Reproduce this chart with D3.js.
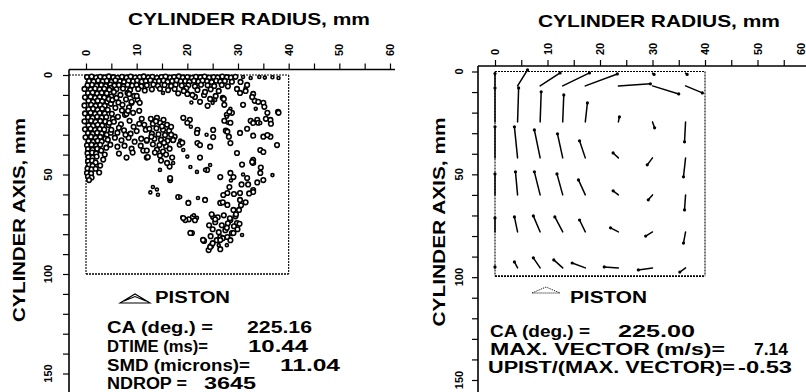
<!DOCTYPE html>
<html><head><meta charset="utf-8">
<script src="https://cdn.jsdelivr.net/npm/d3@7"></script>
<style>
body{margin:0;background:#fff}
svg{display:block;background:#fff}
text{font-family:"Liberation Sans",Arial,Helvetica,sans-serif;font-weight:bold;fill:#000}
</style>
</head><body>
<svg id="chart" width="806" height="392"></svg>
<script>
// ---------------- DATA ----------------
const radiusTicks = [0, 10, 20, 30, 40, 50, 60];
const axisTicks = [0, 50, 100, 150];
const xTitle = "CYLINDER RADIUS, mm";
const yTitle = "CYLINDER AXIS, mm";
const pistonLabel = "PISTON";

// droplet positions [radius mm, axial mm, small?]
const drops = [
// top band
[0.2,1.0],[1.1,0.8],[2.0,1.3],[2.8,0.9],[3.7,1.2],[4.5,0.7],[5.4,1.1],[6.2,1.4],[7.1,0.9],[8.0,1.2],[8.8,0.8],[9.7,1.3],[10.6,1.0],[11.4,0.7],[12.3,1.2],[13.1,0.9],[14.0,1.4],[14.9,1.0],[15.7,0.8],[16.6,1.3],[17.4,1.0],[18.3,0.7],[19.1,1.2],[20.0,1.0],[20.9,1.4],[21.7,0.9],[22.6,1.1],[23.4,0.8],[24.3,1.3],[25.2,1.0],[26.0,1.2],[26.9,0.8],[27.8,1.1],[28.6,1.3],[29.5,0.9],
[0.6,3.0],[1.5,3.3],[2.4,2.8],[3.3,3.2],[4.1,2.9],[5.0,3.4],[5.8,2.7],[6.7,3.1],[7.5,3.5],[8.4,2.9],[9.3,3.2],[10.1,2.8],[11.0,3.3],[11.8,3.0],[12.7,2.7],[13.6,3.3],[14.4,3.0],[15.3,2.8],[16.1,3.4],[17.0,3.0],[17.9,2.7],[18.7,3.2],[19.6,3.0],[20.4,3.4],[21.3,2.9],[22.2,3.3],[23.0,2.8],[23.9,3.1],[24.8,3.5],[25.7,2.9],[26.5,3.3],[27.4,3.0],[28.8,3.4],
[0.3,5.2],[1.2,4.9],[2.1,5.4],[3.0,5.0],[3.9,5.5],[4.8,4.8],[5.6,5.3],[6.5,5.0],[7.4,5.6],[8.2,4.9],[9.1,5.3],[10.0,5.0],[10.9,5.6],[12.0,5.1],[13.3,4.8],[14.2,5.4],[15.5,5.0],[16.8,5.5],[17.7,4.9],[18.9,5.3],[20.2,5.1],[21.5,5.6],[22.7,4.9],[24.0,5.2],[25.3,5.5],[26.8,5.0],[28.0,5.7],
[4.9,6.5],[6.0,7.2],[7.3,6.8],[8.7,7.5],[10.3,7.0],[11.6,7.8],[13.0,7.2],[14.6,6.9],[16.2,7.6],[17.5,7.0],[19.8,6.7],[22.0,7.5],[24.6,7.2],[26.2,8.0],
[31.0,1.0,1],[32.5,1.5,1],[34.2,1.0,1],[35.3,1.3,1],[36.8,1.1,1],[38.0,1.5,1],[30.5,3.5],[31.5,6.5,1],[29.8,7.0],
// left column
[-0.3,7.0],[0.9,7.3],[1.8,6.8],[2.7,7.2],[3.6,6.9],[4.6,7.4],
[0.4,9.1],[1.3,8.8],[2.2,9.3],[3.1,8.9],[4.1,9.2],
[-0.2,11.2],[0.9,10.9],[1.8,11.4],[2.7,11.0],[3.6,11.3],[5.0,10.8],
[0.5,13.0],[1.4,13.4],[2.3,12.9],[3.2,13.2],[4.2,13.5],
[-0.3,15.3],[1.0,15.0],[1.9,15.5],[2.8,15.1],[3.7,15.4],
[0.5,17.2],[1.4,16.9],[2.3,17.4],[3.2,17.0],[4.3,17.5],
[-0.2,19.3],[0.9,19.0],[1.8,19.5],[2.7,19.1],[3.7,19.4],
[0.4,21.2],[1.3,21.5],[2.2,21.0],[3.1,21.4],[4.0,21.1],
[-0.3,23.3],[1.0,23.0],[1.9,23.5],[2.8,23.1],[3.8,23.4],
[0.5,25.2],[1.4,25.5],[2.3,25.0],[3.2,25.4],[4.4,25.1],
[-0.2,27.3],[0.9,27.0],[1.8,27.5],[2.7,27.1],[3.6,27.4],
[0.4,29.2],[1.3,29.5],[2.2,29.0],[3.1,29.4],[4.1,30.0],
[-0.1,31.3],[1.0,31.0],[1.9,31.5],[2.8,31.1],[3.8,32.0],
[0.5,33.2],[1.4,33.5],[2.3,33.0],[3.1,33.4],
[0.2,35.3],[1.1,35.0],[2.0,35.5],[2.8,35.1],
[0.4,37.2],[1.3,37.5],[2.2,37.0],[3.0,38.0],
[0.3,39.3],[1.2,39.0],[2.0,39.5],
[0.5,41.2],[1.3,41.5],[2.1,41.0],
[0.4,43.3],[1.2,43.0],[1.9,44.0],
[0.6,45.1],[1.3,45.6],
[0.3,47.0],[1.1,47.4],[1.9,47.1],
[0.2,49.2],[1.0,49.5],
[0.4,51.0],[1.1,51.5],[0.6,52.8],
[4.5,12.0],[4.9,14.5],[5.3,22.0],[4.6,24.0],[4.9,29.0],[4.3,32.5],[4.0,36.5],[3.7,40.0],[3.4,42.5],[2.8,45.5],[2.6,49.0],
// moderate region right of the column
[5.5,8.5],[6.8,10.0],[8.2,9.0],[9.5,10.5],[5.2,12.5],[6.4,13.8],[7.9,12.2],[9.0,14.0],[10.2,12.5],[5.8,16.5],[7.1,17.8],[8.5,16.2],[5.1,19.5],[6.3,21.0],[7.7,20.0],[9.3,19.0],[10.5,18.0],[5.5,23.5],[6.9,24.8],[8.6,23.0],[11.0,22.0],[5.0,27.5],[6.2,29.0],[7.5,27.8],[8.8,29.5],[10.0,28.2],[5.7,31.5],[7.0,32.8],[8.4,31.5],[9.6,33.5],[10.9,32.0],[4.8,35.0],[6.2,36.0],[7.6,35.5],[9.0,37.0],
[6.0,11.5],[7.2,15.0],[8.0,19.5],[6.5,26.5],[7.8,30.0],[9.4,26.0],[10.5,24.5],[11.8,27.5],[10.8,35.5],[9.2,39.0],[11.3,38.0],[6.5,39.5],[8.0,41.5],
// cluster near r=14
[12.8,22.0],[14.0,21.5],[15.3,22.5],[13.2,24.5],[14.6,24.0],[16.0,25.0],[12.5,27.0],[13.9,26.8],[15.2,27.5],[16.4,28.0],[13.0,29.5],[14.3,29.8],[15.6,30.2],[13.5,32.0],[14.8,32.5],[16.1,33.0],[13.2,34.8],[14.5,35.2],[15.8,35.8],[14.0,37.5],[15.2,38.5],[14.6,40.5],[16.5,37.0],[17.0,41.5],[12.0,41.5],[11.5,25.0],[17.5,31.0],[18.5,35.0],[12.0,33.0],[12.0,38.0],
[13.8,23.2],[15.0,25.8],[12.9,31.0],[15.4,34.0],[16.8,30.0],[13.6,39.0],[15.8,40.0],
// scattered middle
[8.5,9.5],[10.0,10.5],[9.0,13.5],[10.6,14.0],[15.2,9.0,1],[18.2,9.2],[20.0,9.5],[21.5,11.0],[22.5,13.5],[20.8,13.8,1],[23.3,10.0],[24.5,12.0],[25.6,10.5],[25.0,14.0,1],[27.0,11.5],[27.3,15.0],[28.5,17.0,1],[28.8,19.0],[30.4,9.0],[31.8,5.0],[33.0,9.5],[33.3,13.0],[35.0,14.0],[35.8,19.0],[37.9,18.5],[33.8,22.5],[36.4,22.6],[36.4,31.0],[34.4,37.7],[33.0,42.7],
[8.3,18.0],[17.2,32.5],[18.6,33.0,1],[16.8,26.0],[20.5,22.5],[20.7,26.0,1],[22.0,34.2],[24.5,36.0],[25.1,27.6],[27.8,20.0],[28.0,24.0,1],[27.6,28.0],[28.2,31.0],[20.0,41.0,1],[22.5,41.5],[14.8,43.0],[16.5,46.0],
[19.3,8.0],[21.0,10.0],[23.5,8.5],[25.5,12.5,1],[24.0,15.5],[27.2,12.0],[28.3,18.5],[27.8,21.0,1],[31.5,8.0],[32.8,11.0],[34.0,13.5],[35.2,16.0],[33.5,17.0,1],[31.0,15.0],[32.5,23.0],[34.0,24.0],[35.5,22.0],[36.5,24.5],[38.0,19.0],[28.5,24.0],[27.3,23.0],[27.9,28.5],[22.0,27.5],[23.8,30.0,1],[19.2,21.5],[20.0,24.0],[35.0,31.0],[31.8,27.0],[33.0,30.5],
[16.0,44.2],[17.2,32.7],[19.0,34.0],[19.2,37.7,1],[21.9,29.1],[22.5,35.2],[12.0,32.7],[12.2,41.2],[25.1,31.2],[28.5,34.2],[29.8,39.2],[30.4,29.1],[33.0,24.1],[34.4,24.1,1],[35.8,30.2],[37.7,35.2],[35.0,38.7],[33.0,44.2],
// lower region
[13.2,56.3,1],[12.7,59.0,1],[14.2,60.2,1],[16.6,52.8],[14.0,57.5,1],[18.2,61.3],[20.2,63.8,1],[19.0,71.5,1],[20.3,72.5],[21.9,71.8,1],[20.6,78.9,1],[23.3,83.4],[24.7,85.9],[23.1,82.9,1],[20.2,64.3],[19.6,72.9],[21.1,71.4],[20.9,79.4],[23.9,47.7],
[31.8,51.8],[29.1,51.3],[27.9,59.3],[30.4,59.3],[33.0,57.8],[29.1,67.8],[26.5,64.3],[25.1,71.4],[28.5,72.9],[29.8,74.4],[26.5,81.4],
[14.6,47.7,1],[17.2,44.2,1],[16.6,51.8],[20.6,46.2,1],[21.9,48.7,1],[23.5,47.7,1],[24.5,45.2,1],[26.5,51.3],[28.5,49.2],[28.6,53.0,1],[28.3,56.3],[30.8,45.0],[31.0,50.0,1],[30.7,55.0],[32.8,43.7],[34.4,49.2],[35.0,52.8],[36.8,50.3,1],[33.0,58.8],[32.2,59.5],[27.1,60.3],[29.2,59.8],[30.4,62.8],[30.6,65.5],[30.2,67.8],[27.9,65.3],[27.0,64.0],[18.6,61.3,1],[22.1,61.8,1],[23.5,62.8],[19.2,71.9],[21.3,70.5,1],[21.5,73.0],[20.6,79.4],
[24.8,70.0],[26.0,71.5],[27.2,70.5],[28.4,72.0],[29.5,71.0],[25.5,74.0],[26.8,75.5],[28.0,74.5],[29.2,76.0],[30.3,74.8],[25.0,77.5],[26.2,79.0],[27.5,78.0],[28.8,79.5],[24.6,81.0],[25.8,83.0],[27.0,82.0],[26.2,85.5,1],[24.2,88.0],[27.8,85.5,1],[23.1,82.9],[24.5,86.4],[26.5,82.9],[27.9,81.4],[29.1,79.4],[30.8,80.4,1],
[25.5,72.5],[27.8,76.8],[29.9,77.5],[24.3,75.5],[26.5,87.5],[25.0,84.5],[28.5,83.0],[29.6,70.0],[31.5,64.0],[32.0,55.0],[33.8,54.0],[34.5,46.5]
];

// vector field: grid positions (mm) and displacement components (plot mm)
const gridR = [0, 4.3, 8.6, 12.9, 17.2, 23.5, 30.0, 36.3];
const gridZ = [7, 24.5, 42, 60, 78, 95.5];
const vecU = [
  [0, 1.9, 3.8, 5.1, 6.1, 6.1, 5.0, 3.2],
  [0, 0.2, 0.2, 0.2, 0.4, 0.2, 0.4, -0.2],
  [0, -0.6, -1.1, -1.0, -1.1, -1.0, -1.0, -0.4],
  [0, -0.4, -1.1, -1.1, -1.3, -1.0, -0.8, -0.2],
  [0, -0.6, -1.3, -1.5, -1.1, -1.5, -1.3, -0.4],
  [0, -0.6, -1.3, -1.7, -2.5, -2.7, -2.7, -1.1]
];
const vecV = [
  [-6.0, -7.8, -6.3, -6.3, -5.8, -1.0, 3.9, 3.4],
  [-16.5, -16.5, -14.6, -13.1, -9.2, -2.4, 2.9, 9.7],
  [-15.1, -15.1, -13.6, -11.7, -8.3, -2.4, 3.4, 9.2],
  [-10.2, -11.2, -11.2, -10.2, -7.3, -2.0, 2.4, 7.3],
  [-6.8, -7.3, -7.8, -7.3, -5.8, -2.0, 2.0, 5.4],
  [-0.5, -2.9, -4.9, -3.9, -2.4, -0.5, 1.0, 2.0]
];
const topRowR = [30.0, 36.3];
const topRowU = [0.3, 0.3];
const topRowV = [0.6, 0.6];

const leftInfoLabels = ["CA (deg.) =", "DTIME (ms)=", "SMD (microns)=", "NDROP ="];
const leftInfoValues = ["225.16", "10.44", "11.04", "3645"];
const rightInfoLabels = ["CA (deg.) =", "MAX. VECTOR (m/s)=", "UPIST/(MAX. VECTOR)="];
const rightInfoValues = ["225.00", "7.14", "-0.53"];

// ---------------- DRAWING ----------------
const svg = d3.select("#chart");

const panels = [
  { x: d3.scaleLinear().domain([0, 60]).range([86, 390]),
    y: d3.scaleLinear().domain([0, 150]).range([75, 373.5]),
    axTop: 69.5, axLeft: 69, xEnd: 395, xLabBottom: 56, yLabX: 52,
    titleCx: 249, titleBase: 25, titleLen: 242,
    yTitleX: 25, yTitleCy: 220, yTitleLen: 204 },
  { x: d3.scaleLinear().domain([0, 60]).range([495, 810]),
    y: d3.scaleLinear().domain([0, 150]).range([71.5, 380]),
    axTop: 66, axLeft: 478, xEnd: 806, xLabBottom: 55, yLabX: 463,
    titleCx: 659, titleBase: 27, titleLen: 242,
    yTitleX: 445, yTitleCy: 222, yTitleLen: 209 }
];

panels.forEach((p, pi) => {
  const g = svg.append("g");
  // top axis
  const ax = d3.axisTop(p.x).tickValues(d3.range(0, 61, 5)).tickSize(6).tickSizeOuter(0).tickFormat("");
  const gx = g.append("g").attr("transform", `translate(0,${p.axTop})`).call(ax);
  gx.select(".domain").remove();
  gx.selectAll("line").attr("stroke", "#000").attr("stroke-width", 1.2);
  g.append("line").attr("x1", p.axLeft).attr("x2", p.xEnd).attr("y1", p.axTop).attr("y2", p.axTop)
    .attr("stroke", "#000").attr("stroke-width", 1.6);
  g.selectAll(".xl").data(radiusTicks).enter().append("text")
    .attr("transform", d => `translate(${Math.min(p.x(d) + 4, 805)},${p.xLabBottom}) rotate(-90)`)
    .attr("text-anchor", "start").attr("font-size", 11).text(d => d);
  // left axis
  const ay = d3.axisLeft(p.y).tickValues(d3.range(0, 151, 10)).tickSize(6).tickSizeOuter(0).tickFormat("");
  const gy = g.append("g").attr("transform", `translate(${p.axLeft},0)`).call(ay);
  gy.select(".domain").remove();
  gy.selectAll("line").attr("stroke", "#000").attr("stroke-width", 1.2);
  g.append("line").attr("x1", p.axLeft).attr("x2", p.axLeft).attr("y1", p.axTop).attr("y2", 392)
    .attr("stroke", "#000").attr("stroke-width", 1.6);
  g.selectAll(".yl").data(axisTicks).enter().append("text")
    .attr("transform", d => `translate(${p.yLabX},${p.y(d)}) rotate(-90)`)
    .attr("text-anchor", "middle").attr("font-size", 11).text(d => d);
  // titles
  g.append("text").attr("x", p.titleCx - p.titleLen / 2).attr("y", p.titleBase)
    .attr("font-size", 17).attr("textLength", p.titleLen).attr("lengthAdjust", "spacingAndGlyphs").text(xTitle);
  g.append("text").attr("transform", `translate(${p.yTitleX},${p.yTitleCy + p.yTitleLen / 2}) rotate(-90)`)
    .attr("font-size", 17).attr("textLength", p.yTitleLen).attr("lengthAdjust", "spacingAndGlyphs").text(yTitle);
  // cylinder boundary (dashed)
  const bx0 = p.x(0), bx1 = p.x(40), by0 = p.y(0), by1 = p.y(100) - (pi === 1 ? 1 : 0);
  const dash = (x1, y1, x2, y2, w) => g.append("line").attr("x1", x1).attr("y1", y1).attr("x2", x2).attr("y2", y2)
    .attr("stroke", "#000").attr("stroke-width", w).attr("stroke-dasharray", "2,1");
  dash(pi === 0 ? p.axLeft : bx0, by0, bx1, by0, 1.1);
  dash(bx1, by0, bx1, by1, 1.1);
  dash(bx0, by1, bx1, by1, 1.6);
  dash(bx0, by0, bx0, by1, 1.1);
});

// ----- left panel droplets -----
const L = panels[0];
svg.append("g").selectAll("circle").data(drops).enter().append("circle")
  .attr("cx", d => L.x(d[0])).attr("cy", d => L.y(d[1]))
  .attr("r", d => d[2] ? 1.5 : 2.3)
  .attr("fill", "#fff").attr("stroke", "#000").attr("stroke-width", 1.6);

// ----- right panel vectors -----
const R = panels[1];
const vecs = [];
gridZ.forEach((z, i) => gridR.forEach((r, j) => vecs.push({ r, z, u: vecU[i][j], v: vecV[i][j] })));
topRowR.forEach((r, j) => vecs.push({ r, z: 0.8, u: topRowU[j], v: topRowV[j] }));
const vg = svg.append("g");
vg.selectAll("line").data(vecs).enter().append("line")
  .attr("x1", d => R.x(d.r)).attr("y1", d => R.y(d.z))
  .attr("x2", d => R.x(d.r + d.u)).attr("y2", d => R.y(d.z + d.v))
  .attr("stroke", "#000").attr("stroke-width", 1.5).attr("stroke-linecap", "round");
vg.selectAll("circle").data(vecs).enter().append("circle")
  .attr("cx", d => R.x(d.r + d.u)).attr("cy", d => R.y(d.z + d.v))
  .attr("r", 1.6).attr("fill", "#000");

// ----- piston markers and labels -----
svg.append("path").attr("d", "M120,303 L135,294 L150,303 Z M124,301 L135,296.5 L146,301")
  .attr("fill", "none").attr("stroke", "#000").attr("stroke-width", 1.1);
svg.append("text").attr("x", 155).attr("y", 303).attr("font-size", 16)
  .attr("textLength", 75).attr("lengthAdjust", "spacingAndGlyphs").text(pistonLabel);
svg.append("path").attr("d", "M532,293 L546,287 L560,293 Z")
  .attr("fill", "none").attr("stroke", "#000").attr("stroke-width", 1).attr("stroke-dasharray", "1,1");
svg.append("text").attr("x", 570).attr("y", 303).attr("font-size", 16)
  .attr("textLength", 77).attr("lengthAdjust", "spacingAndGlyphs").text(pistonLabel);

// ----- info text -----
const leftBase = [333, 352, 371, 389];
const leftLabLen = [106, 101, 143, 80];
const leftValX = [247, 248, 280, 204];
const leftValLen = [65, 60, 60, 52];
leftInfoLabels.forEach((t, i) => {
  svg.append("text").attr("x", 107).attr("y", leftBase[i]).attr("font-size", 16)
    .attr("textLength", leftLabLen[i]).attr("lengthAdjust", "spacingAndGlyphs").text(t);
  svg.append("text").attr("x", leftValX[i]).attr("y", leftBase[i]).attr("font-size", 16)
    .attr("textLength", leftValLen[i]).attr("lengthAdjust", "spacingAndGlyphs").text(leftInfoValues[i]);
});
const rightBase = [337, 355, 373];
const rightLabX = [490, 490, 488];
const rightLabLen = [100, 235, 247];
const rightValX = [618, 754, 738];
const rightValLen = [77, 34, 54];
rightInfoLabels.forEach((t, i) => {
  svg.append("text").attr("x", rightLabX[i]).attr("y", rightBase[i]).attr("font-size", 16)
    .attr("textLength", rightLabLen[i]).attr("lengthAdjust", "spacingAndGlyphs").text(t);
  svg.append("text").attr("x", rightValX[i]).attr("y", rightBase[i]).attr("font-size", 16)
    .attr("textLength", rightValLen[i]).attr("lengthAdjust", "spacingAndGlyphs").text(rightInfoValues[i]);
});
</script>
</body></html>
